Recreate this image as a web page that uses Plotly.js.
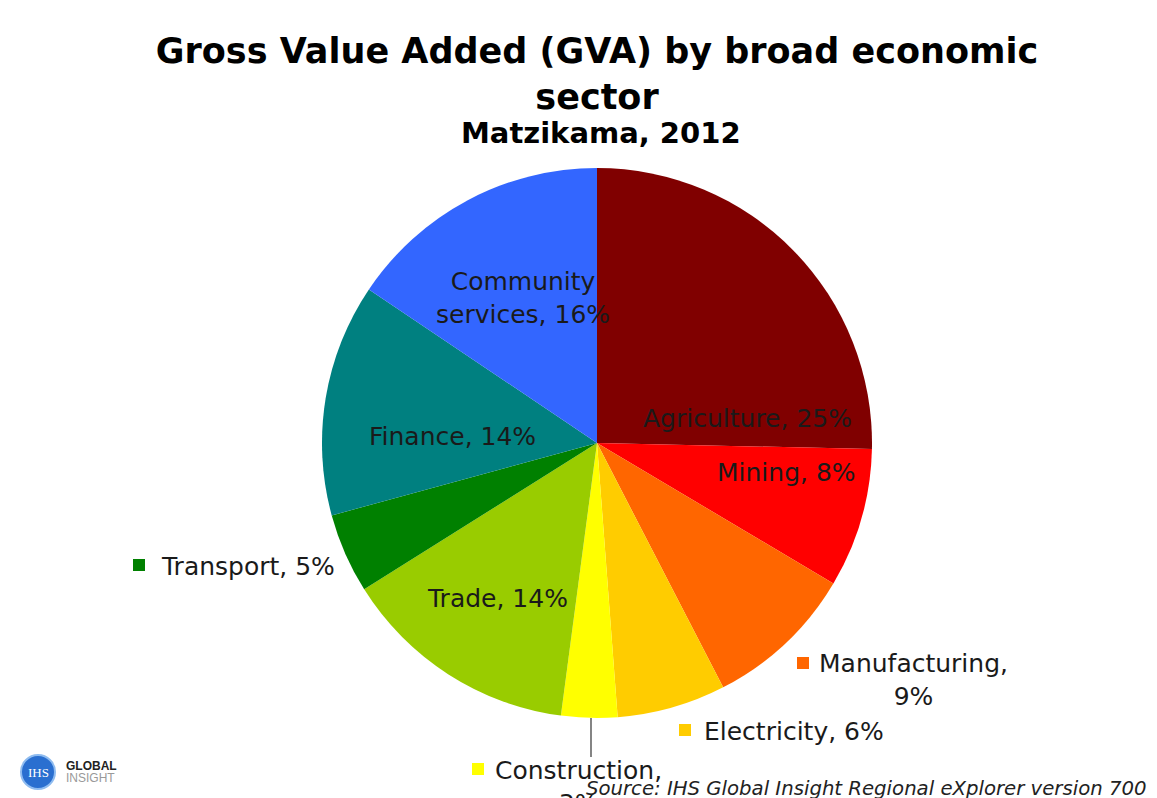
<!DOCTYPE html>
<html>
<head>
<meta charset="utf-8">
<script src="https://cdn.plot.ly/plotly-3.0.1.min.js"></script>
<style>
  html, body { margin: 0; padding: 0; background: #ffffff; }
  #chart { width: 1157px; height: 798px; }
</style>
</head>
<body>
<div id="chart"></div>
<script>
// ---- data ----
const categories = ['Agriculture', 'Mining', 'Manufacturing', 'Electricity', 'Construction', 'Trade', 'Transport', 'Finance', 'Community services'];
const shares = [25.4, 8.2, 8.9, 6.4, 3.3, 14.0, 4.7, 13.7, 15.6];
const pctLabels = ['25%', '8%', '9%', '6%', '3%', '14%', '5%', '14%', '16%'];
const titleText = 'Gross Value Added (GVA) by broad economic<br>sector';
const subtitleText = 'Matzikama, 2012';
const sourceText = 'Source: IHS Global Insight Regional eXplorer version 700';

// ---- styles ----
const colors = ['#800000', '#FF0000', '#FF6600', '#FFCC00', '#FFFF00', '#99CC00', '#008000', '#008080', '#3366FF'];
const W = 1157, H = 798;
const px = x => x / W;
const py = y => 1 - y / H;

// label placement (pixel centres / anchors)
const labelPos = {
  'Agriculture':        {x: 747, y: 418, anchor: 'center'},
  'Mining':             {x: 786, y: 472, anchor: 'center'},
  'Manufacturing':      {x: 913, y: 680, anchor: 'center', br: true, marker: [797, 657]},
  'Electricity':        {x: 702, y: 731, anchor: 'left', marker: [679, 724]},
  'Construction':       {x: 578, y: 787, anchor: 'center', br: true, marker: [472, 763]},
  'Trade':              {x: 497, y: 598, anchor: 'center'},
  'Transport':          {x: 159, y: 566, anchor: 'left', marker: [133, 559]},
  'Finance':            {x: 452, y: 436, anchor: 'center'},
  'Community services': {x: 523, y: 298, anchor: 'center', brWord: true}
};

const annotations = [];
const shapes = [];
categories.forEach((c, i) => {
  const p = labelPos[c];
  let txt;
  if (p.brWord) txt = c.replace(' ', '<br>') + ', ' + pctLabels[i];
  else if (p.br) txt = c + ',<br>' + pctLabels[i];
  else txt = c + ', ' + pctLabels[i];
  annotations.push({
    x: px(p.x), y: py(p.y), xref: 'paper', yref: 'paper',
    xanchor: p.anchor, yanchor: 'middle', showarrow: false,
    text: txt, align: 'center',
    font: {family: 'DejaVu Sans, Verdana, sans-serif', size: 25, color: '#1a1a1a'}
  });
  if (p.marker) {
    shapes.push({
      type: 'rect', xref: 'paper', yref: 'paper',
      x0: px(p.marker[0]), x1: px(p.marker[0] + 12),
      y0: py(p.marker[1] + 12), y1: py(p.marker[1]),
      fillcolor: colors[i], line: {width: 0}
    });
  }
});

// leader line for Construction
shapes.push({type: 'line', xref: 'paper', yref: 'paper',
  x0: px(591), x1: px(591), y0: py(718), y1: py(757),
  line: {color: '#333333', width: 1.2}});

// subtitle
annotations.push({
  x: px(601), y: py(133), xref: 'paper', yref: 'paper', xanchor: 'center', yanchor: 'middle',
  showarrow: false, text: '<b>' + subtitleText + '</b>',
  font: {family: 'DejaVu Sans, Verdana, sans-serif', size: 29, color: '#000000'}
});

// source
annotations.push({
  x: px(584), y: py(788), xref: 'paper', yref: 'paper', xanchor: 'left', yanchor: 'middle',
  showarrow: false, text: '<i>' + sourceText + '</i>',
  font: {family: 'DejaVu Sans, Verdana, sans-serif', size: 19.7, color: '#222222'}
});

// logo
shapes.push({type: 'circle', xref: 'paper', yref: 'paper', layer: 'below',
  x0: px(21), x1: px(55), y0: py(789), y1: py(755),
  fillcolor: '#2a6fd0', line: {color: '#8fbcf0', width: 2}});
annotations.push({x: px(38), y: py(772), xref: 'paper', yref: 'paper', showarrow: false,
  xanchor: 'center', yanchor: 'middle',
  text: 'IHS', font: {family: 'Liberation Serif, serif', size: 13, color: '#ffffff'}});
annotations.push({x: px(64), y: py(766), xref: 'paper', yref: 'paper', xanchor: 'left', yanchor: 'middle', showarrow: false,
  text: '<b>GLOBAL</b>', font: {family: 'Liberation Sans, Arial, sans-serif', size: 12, color: '#222222'}});
annotations.push({x: px(64), y: py(778), xref: 'paper', yref: 'paper', xanchor: 'left', yanchor: 'middle', showarrow: false,
  text: 'INSIGHT', font: {family: 'Liberation Sans, Arial, sans-serif', size: 12, color: '#999999'}});

const trace = {
  type: 'pie',
  labels: categories,
  values: shares,
  marker: {colors: colors, line: {width: 0}},
  sort: false,
  direction: 'clockwise',
  rotation: 0,
  textinfo: 'none',
  hoverinfo: 'label+percent',
  showlegend: false,
  domain: {x: [px(322), px(872)], y: [py(718), py(168)]}
};

const layout = {
  width: W, height: H,
  margin: {l: 0, r: 0, t: 0, b: 0},
  paper_bgcolor: '#ffffff',
  title: {
    text: '<b>' + titleText + '</b>',
    x: px(597), xanchor: 'center',
    y: 1 - 63 / H, yanchor: 'top', yref: 'container',
    font: {family: 'DejaVu Sans, Verdana, sans-serif', size: 35, color: '#000000'}
  },
  showlegend: false,
  annotations: annotations,
  shapes: shapes
};

Plotly.newPlot('chart', [trace], layout, {displayModeBar: false, staticPlot: true});
</script>
</body>
</html>
